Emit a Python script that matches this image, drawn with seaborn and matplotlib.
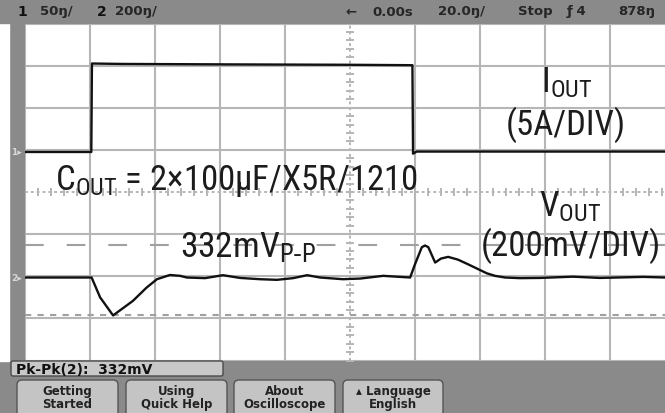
import numpy as np
import pandas as pd
import seaborn as sns
import matplotlib.pyplot as plt
from matplotlib import font_manager
from matplotlib.patches import Rectangle, FancyBboxPatch
from matplotlib.transforms import IdentityTransform, blended_transform_factory

# channel 1: load current in A, time in us
t_iout = [-100, -79.6, -79.4, -70, -40, 0, 19.2, 19.4, 20.5, 60, 97]
iout_a = [0.0, 0.0, 10.5, 10.45, 10.4, 10.35, 10.3, -0.2, 0.05, 0.05, 0.05]

# channel 2: output voltage deviation in mV
t_vout = [-100, -79.5, -76.9, -72.9, -66.8, -62.6, -59.4, -55.4, -52.3, -50.2,
          -44.6, -39.1, -33.8, -27.7, -22.5, -17.5, -13.2, -9.2, -2.2, 3.1,
          10.2, 18.5, 20.0, 22.1, 23.1, 24.1, 26.2, 28.0, 30.2, 33.2, 36.3,
          39.4, 42.1, 44.6, 47.7, 52.3, 58.5, 68.6, 76.9, 90.2, 97]
vout_mv = [0, 0, -94, -180, -111, -48, -8, 12, 8, 0,
           -3, 11, -2, -8, -11, -3, 11, 0, -8, -5,
           8, 0, 63, 144, 152, 144, 71, 90, 98, 85, 63,
           40, 20, 8, 0, -3, -2, 4, -2, 3, 0]

# scope settings
ch1_pos, ch2_pos = 0.95, -2.03     # divisions
ch1_scale, ch2_scale = 5.0, 200.0  # A/div, mV/div
time_scale = 20.0                  # us/div

status_left = [("1", 17, True), ("50ŋ/", 40, False), ("2", 97, True), ("200ŋ/", 115, False)]
status_right = [("←", 345, False), ("0.00s", 372, False), ("20.0ŋ/", 438, False),
                ("Stop", 518, False), ("ƒ 4", 567, False), ("878ŋ", 618, False)]
softkeys = ["Getting\nStarted", "Using\nQuick Help", "About\nOscilloscope", "▴ Language\nEnglish"]
softkey_x = [(17, 118), (126, 227), (234, 335), (343, 443)]

W, H = 665, 414
GRID_L, GRID_T, GRID_B = 25, 24.5, 361.5
BAR_H = 24
GRAY = "#8a8a8a"
GRID = "#b6b6b6"
INK = "#1c1c1c"

sns.set_style("white")
names = {f.name for f in font_manager.fontManager.ttflist}
narrow = next((n for n in ["Liberation Sans Narrow", "Roboto Condensed", "Open Sans Condensed"] if n in names),
              "DejaVu Sans")
plt.rcParams["font.family"] = [narrow, "DejaVu Sans"]

fig = plt.figure(figsize=(W / 100, H / 100), dpi=100, facecolor=GRAY)
ax = fig.add_axes([GRID_L / W, 1 - GRID_B / H, 1 - GRID_L / W, (GRID_B - GRID_T) / H])
ax.set_facecolor("white")
ax.set_xlim(-5 * time_scale, -5 * time_scale + (W - GRID_L) / 65 * time_scale)
ax.set_ylim(-4, 4)
ax.set_xticks([])
ax.set_yticks([])
for s in ax.spines.values():
    s.set_visible(False)

# white margin at far left
fig.add_artist(Rectangle((0, 1 - GRID_B / H), 9 / W, (GRID_B - BAR_H) / H,
                         transform=fig.transFigure, color="white", zorder=0))

# graticule
for k in range(-5, 6):
    if k != 0:
        ax.axvline(k * time_scale, color=GRID, lw=1.5, zorder=1)
for k in range(-4, 5):
    if k != 0:
        ax.axhline(k, color=GRID, lw=1.5, zorder=1)
ax.axvline(0, color=GRID, lw=1.4, ls=(0, (1.5, 1.5)), zorder=1)
ax.axhline(0, color=GRID, lw=1.4, ls=(0, (1.5, 1.5)), zorder=1)
xt = np.arange(-5 * time_scale, 5 * time_scale + 0.1, time_scale / 5)
ax.plot(xt, np.zeros_like(xt), ls="none", marker="|", ms=6, mew=1.4, color=GRID, zorder=1)
yt = np.arange(-4, 4.01, 0.2)
ax.plot(np.zeros_like(yt), yt, ls="none", marker="_", ms=6, mew=1.4, color=GRID, zorder=1)

# traces
df_i = pd.DataFrame({"t": t_iout, "y": ch1_pos + np.array(iout_a) / ch1_scale})
df_v = pd.DataFrame({"t": t_vout, "y": ch2_pos + np.array(vout_mv) / ch2_scale})
sns.lineplot(data=df_i, x="t", y="y", ax=ax, color="#111111", lw=1.7, estimator=None, sort=False, zorder=4)
sns.lineplot(data=df_v, x="t", y="y", ax=ax, color="#111111", lw=1.7, estimator=None, sort=False, zorder=4)
ax.set_xlabel("")
ax.set_ylabel("")

# pk-pk cursors
vmax, vmin = max(vout_mv), min(vout_mv)
pk_pk = vmax - vmin
ax.axhline(ch2_pos + vmax / ch2_scale, color="#a0a0a0", lw=1.5, ls=(0, (9, 11)), zorder=2)
ax.axhline(ch2_pos + vmin / ch2_scale, color="#a0a0a0", lw=1.5, ls=(0, (3, 3)), zorder=2)

# channel ground markers
bt = blended_transform_factory(fig.transFigure, ax.transData)
for label, pos in [("1", ch1_pos), ("2", ch2_pos)]:
    ax.text(11 / W, pos, label + "▸", transform=bt, fontsize=6.5, color="#d8d8d8",
            family="DejaVu Sans", va="center", ha="left", fontweight="bold")

# annotations
big = dict(color=INK, va="baseline", zorder=5)
ax.text(-90.8, 0.08, r"$\mathregular{C_{OUT}}$ = 2×100µF/X5R/1210", fontsize=25, ha="left", **big)
ax.text(66.8, 2.38, r"$\mathregular{I_{OUT}}$", fontsize=25, ha="center", **big)
ax.text(66.5, 1.38, f"({ch1_scale:.0f}A/DIV)", fontsize=25, ha="center", **big)
ax.text(67.7, -0.56, r"$\mathregular{V_{OUT}}$", fontsize=25, ha="center", **big)
ax.text(68.0, -1.50, f"({ch2_scale:.0f}mV/DIV)", fontsize=25, ha="center", **big)
ax.text(-52.3, -1.53, f"{pk_pk:.0f}mV" + r"$\mathregular{_{P\text{-}P}}$", fontsize=25.5, ha="left", **big)

# status bar
fig.add_artist(Rectangle((0, 1 - BAR_H / H), 1, BAR_H / H, transform=fig.transFigure,
                         color=GRAY, zorder=0))
for text, x, bold in status_left + status_right:
    fig.text(x / W, 1 - 12 / H, text, family="DejaVu Sans", fontsize=10 if bold else 9.5,
             fontweight="bold" if bold else "semibold", color="#111111" if bold else "#262626",
             va="center", ha="left")

# measurement readout
fig.add_artist(FancyBboxPatch((11, H - 377), 212, 15, boxstyle="round,pad=0,rounding_size=2",
                              transform=IdentityTransform(), facecolor="#c8c8c8",
                              edgecolor="#4a4a4a", lw=1))
fig.text(16 / W, 1 - 370 / H, f"Pk-Pk(2):  {pk_pk:.0f}mV", family="DejaVu Sans", fontsize=10,
         fontweight="bold", color="#111111", va="center", ha="left")

# softkeys
for label, (x0, x1) in zip(softkeys, softkey_x):
    fig.add_artist(FancyBboxPatch((x0, -6), x1 - x0, H - 381 + 6, boxstyle="round,pad=0,rounding_size=5",
                                  transform=IdentityTransform(), facecolor="#c4c4c4",
                                  edgecolor="#555555", lw=1))
    fig.text((x0 + x1) / 2 / W, 1 - 398 / H, label, family="DejaVu Sans", fontsize=8.5,
             fontweight="bold", color="#222222", va="center", ha="center", linespacing=0.95)

fig.savefig("out.png", dpi=100, facecolor=GRAY)
